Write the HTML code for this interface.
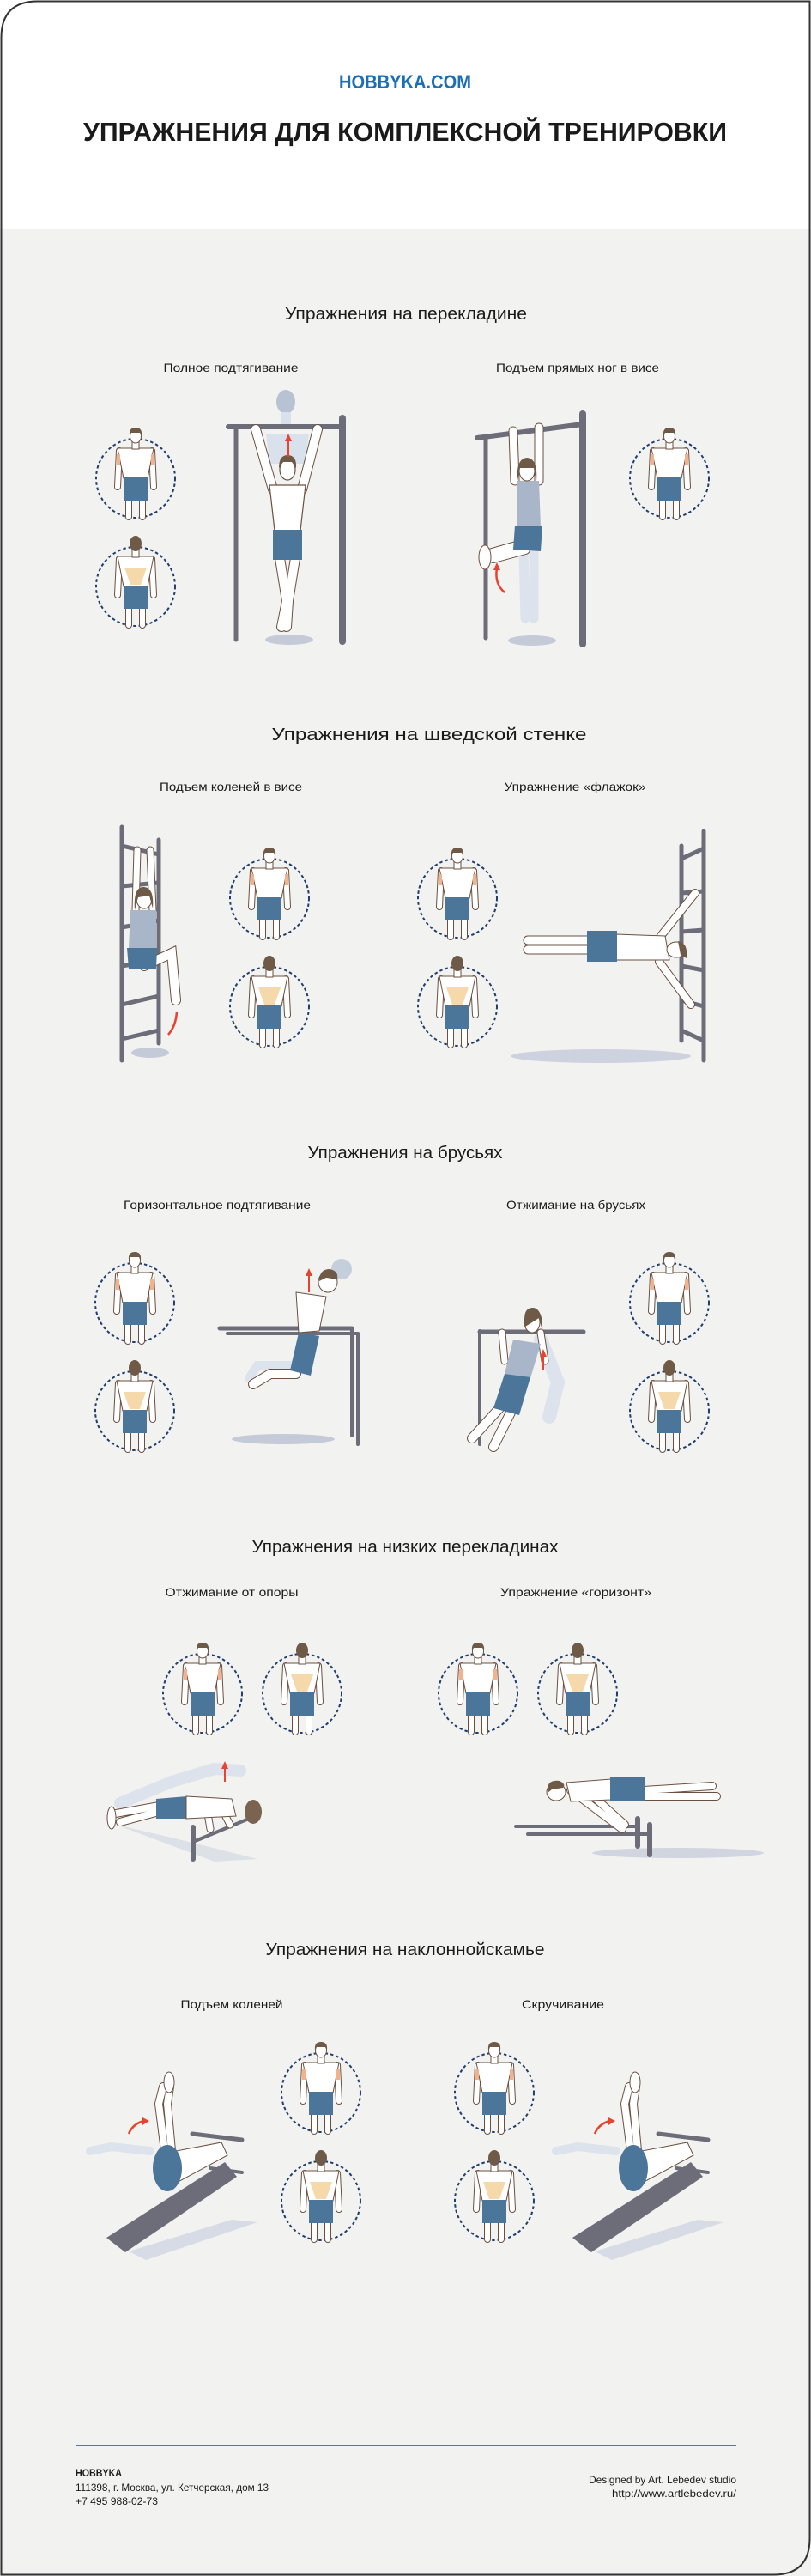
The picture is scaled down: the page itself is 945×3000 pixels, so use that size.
<!DOCTYPE html>
<html><head><meta charset="utf-8"><style>
html,body{margin:0;padding:0;background:#fff;}
svg{display:block;}
text{font-family:"Liberation Sans","Noto Sans CJK SC",sans-serif;}
</style></head><body>
<svg width="945" height="3000" viewBox="0 0 945 3000" xmlns="http://www.w3.org/2000/svg">
<defs>
<linearGradient id="fadeUp" x1="0" y1="0" x2="0" y2="1"><stop offset="0" stop-color="#6d6d7a" stop-opacity="0"/><stop offset="0.35" stop-color="#6d6d7a"/></linearGradient>
<g id="mbase">
 <circle r="46" fill="none" stroke="#1f3f6e" stroke-width="2" stroke-dasharray="3.5 3"/>
 <path d="M-8 24 L-8 45 M8 24 L8 45" stroke="#6b5040" stroke-width="8" stroke-linecap="round"/>
 <path d="M-8 24 L-8 45 M8 24 L8 45" stroke="#fff" stroke-width="6" stroke-linecap="round"/>
 <path d="M-19 -32 L-21 10 M19 -32 L21 10" stroke="#6b5040" stroke-width="8" stroke-linecap="round"/>
 <path d="M-19 -32 L-21 10 M19 -32 L21 10" stroke="#fff" stroke-width="6" stroke-linecap="round"/>
 <path d="M-21 -35 L21 -35 L14 0 L-14 0Z" fill="#fff" stroke="#6b5040" stroke-width="1"/>
 <rect x="-4" y="-44" width="8" height="10" fill="#fff" stroke="#6b5040" stroke-width="1"/>
 <rect x="-14" y="-1" width="28" height="27" fill="#4b7599"/>
</g>
<g id="mf">
 <use href="#mbase"/>
 <rect x="-22" y="-28" width="4" height="13" fill="#f2b38c"/>
 <rect x="18" y="-28" width="4" height="13" fill="#f2b38c"/>
 <ellipse cx="0" cy="-49" rx="6.5" ry="8" fill="#fff" stroke="#6b5040" stroke-width="1"/>
 <path d="M-7 -50 Q-8 -59 0 -59 Q8 -59 7 -50 L5 -53 L-5 -53Z" fill="#6e5a47"/>
</g>
<g id="mb">
 <use href="#mbase"/>
 <path d="M-13 -22 L13 -22 L6 -2 L-6 -2Z" fill="#f6d9aa"/>
 <ellipse cx="0" cy="-50" rx="7" ry="9" fill="#6e5a47"/>
</g>
</defs>

<!-- background & frame -->
<rect x="0" y="0" width="945" height="3000" fill="#fff"/>
<rect x="0" y="267" width="945" height="2733" fill="#f2f2f0"/>
<path d="M44 1.5 L943.5 1.5 L943.5 2956 Q943.5 2998.5 901 2998.5 L1.5 2998.5 L1.5 44 Q1.5 1.5 44 1.5Z" fill="none" stroke="#333" stroke-width="2"/>
<rect x="0" y="0" width="945" height="0.5" fill="#fff"/>

<!-- header -->
<text x="472" y="103" text-anchor="middle" font-size="22" font-weight="bold" fill="#1a6fb8" textLength="154" lengthAdjust="spacingAndGlyphs">HOBBYKA.COM</text>
<text x="472" y="164" text-anchor="middle" font-size="31" font-weight="bold" fill="#1a1a1a" textLength="750" lengthAdjust="spacingAndGlyphs">УПРАЖНЕНИЯ ДЛЯ КОМПЛЕКСНОЙ ТРЕНИРОВКИ</text>

<!-- section titles -->
<g font-size="20" fill="#1a1a1a" text-anchor="middle">
<text x="473" y="372" textLength="282" lengthAdjust="spacingAndGlyphs">Упражнения на перекладине</text>
<text x="500" y="862" textLength="367" lengthAdjust="spacingAndGlyphs">Упражнения на шведской стенке</text>
<text x="472" y="1349" textLength="227" lengthAdjust="spacingAndGlyphs">Упражнения на брусьях</text>
<text x="472" y="1808" textLength="357" lengthAdjust="spacingAndGlyphs">Упражнения на низких перекладинах</text>
<text x="472" y="2277" textLength="325" lengthAdjust="spacingAndGlyphs">Упражнения на наклоннойскамье</text>
</g>
<g font-size="14" fill="#1a1a1a" text-anchor="middle">
<text x="269" y="433" textLength="157" lengthAdjust="spacingAndGlyphs">Полное подтягивание</text>
<text x="673" y="433" textLength="190" lengthAdjust="spacingAndGlyphs">Подъем прямых ног в висе</text>
<text x="269" y="921" textLength="166" lengthAdjust="spacingAndGlyphs">Подъем коленей в висе</text>
<text x="670" y="921" textLength="165" lengthAdjust="spacingAndGlyphs">Упражнение «флажок»</text>
<text x="253" y="1408" textLength="218" lengthAdjust="spacingAndGlyphs">Горизонтальное подтягивание</text>
<text x="671" y="1408" textLength="162" lengthAdjust="spacingAndGlyphs">Отжимание на брусьях</text>
<text x="270" y="1859" textLength="155" lengthAdjust="spacingAndGlyphs">Отжимание от опоры</text>
<text x="671" y="1859" textLength="176" lengthAdjust="spacingAndGlyphs">Упражнение «горизонт»</text>
<text x="270" y="2339" textLength="119" lengthAdjust="spacingAndGlyphs">Подъем коленей</text>
<text x="656" y="2339" textLength="96" lengthAdjust="spacingAndGlyphs">Скручивание</text>
</g>

<!-- mini figures -->
<use href="#mf" x="158" y="557"/><use href="#mb" x="158" y="683"/>
<use href="#mf" x="780" y="557"/>
<use href="#mf" x="314" y="1046"/><use href="#mb" x="314" y="1172"/>
<use href="#mf" x="533" y="1046"/><use href="#mb" x="533" y="1172"/>
<use href="#mf" x="157" y="1517"/><use href="#mb" x="157" y="1643"/>
<use href="#mf" x="780" y="1517"/><use href="#mb" x="780" y="1643"/>
<use href="#mf" x="236" y="1972"/><use href="#mb" x="352" y="1972"/>
<use href="#mf" x="557" y="1972"/><use href="#mb" x="673" y="1972"/>
<use href="#mf" x="374" y="2437"/><use href="#mb" x="374" y="2563"/>
<use href="#mf" x="576" y="2437"/><use href="#mb" x="576" y="2563"/>

<!-- ===== Scene 1a pull-up ===== -->
<ellipse cx="337" cy="745" rx="28" ry="6" fill="#c5cad8"/>
<g stroke-linecap="round">
<line x1="275" y1="497" x2="275" y2="745" stroke="#6d6d7a" stroke-width="5"/>
<line x1="399" y1="487" x2="399" y2="747" stroke="#6d6d7a" stroke-width="8"/>
<line x1="266" y1="497" x2="399" y2="497" stroke="#6d6d7a" stroke-width="6"/>
<!-- ghost -->
<path d="M310 505 L360 505 L356 540 L314 540Z" fill="#d9e1ec"/>
<ellipse cx="333" cy="468" rx="11" ry="14" fill="#b7c3d3"/>
<rect x="327" y="480" width="12" height="14" fill="#d9e1ec"/>
<!-- arms -->
<path d="M298 500 L318 570 M370 500 L352 570" stroke="#6b5040" stroke-width="12"/>
<path d="M298 500 L318 570 M370 500 L352 570" stroke="#fff" stroke-width="10"/>
<!-- legs -->
<path d="M326 650 L334 700 L328 730 M344 650 L336 700 L334 730" stroke="#6b5040" stroke-width="12" fill="none"/>
<path d="M326 650 L334 700 L328 730 M344 650 L336 700 L334 730" stroke="#fff" stroke-width="10" fill="none"/>
</g>
<path d="M314 565 L356 565 L350 618 L320 618Z" fill="#fff" stroke="#6b5040" stroke-width="1.2"/>
<rect x="318" y="617" width="34" height="35" fill="#4b7599"/>
<ellipse cx="335" cy="547" rx="9" ry="12" fill="#fff" stroke="#6b5040" stroke-width="1.2"/>
<path d="M325 545 Q325 530 335 530 Q346 530 345 545 L340 538 L330 538Z" fill="#6e5a47"/>
<path d="M336 532 L336 512" stroke="#e8432e" stroke-width="2"/><path d="M332 514 L336 505 L340 514Z" fill="#e8432e"/>

<!-- ===== Scene 1b leg raise ===== -->
<ellipse cx="620" cy="746" rx="28" ry="6" fill="#c5cad8"/>
<g stroke-linecap="round">
<line x1="566" y1="508" x2="566" y2="743" stroke="#6d6d7a" stroke-width="5"/>
<line x1="679" y1="482" x2="679" y2="750" stroke="#6d6d7a" stroke-width="8"/>
<line x1="556" y1="510" x2="679" y2="494" stroke="#6d6d7a" stroke-width="6"/>
<path d="M610 640 L612 720 M622 640 L622 720" stroke="#dde3ec" stroke-width="11"/>
<path d="M598 502 L600 560 M628 498 L628 560" stroke="#6b5040" stroke-width="11"/>
<path d="M598 502 L600 560 M628 498 L628 560" stroke="#fff" stroke-width="9"/>
<path d="M605 635 L570 645 M612 640 L575 650" stroke="#6b5040" stroke-width="12"/>
<path d="M605 635 L570 645 M612 640 L575 650" stroke="#fff" stroke-width="10"/>
</g>
<ellipse cx="565" cy="649" rx="7" ry="14" fill="#fff" stroke="#6b5040"/>
<path d="M602 560 L628 560 L630 614 L603 614Z" fill="#a9b5c8"/>
<path d="M600 612 L632 612 L630 642 L598 640Z" fill="#4b7599"/>
<ellipse cx="614" cy="548" rx="9" ry="12" fill="#fff" stroke="#6b5040"/>
<path d="M603 560 Q601 534 614 533 Q627 534 625 560 L622 545 L606 545Z" fill="#6e5a47"/>
<path d="M588 690 Q576 680 579 662" stroke="#e8432e" stroke-width="2.5" fill="none"/><path d="M575 664 L579 655 L583 664Z" fill="#e8432e"/>

<!-- ===== Scene 2a wall bars ===== -->
<ellipse cx="175" cy="1226" rx="22" ry="6" fill="#c5cad8"/>
<g stroke="#6d6d7a" stroke-linecap="round">
<line x1="142" y1="963" x2="142" y2="1235" stroke-width="5"/>
<line x1="185" y1="978" x2="185" y2="1215" stroke-width="5"/>
<path d="M142 985 L185 995 M142 1032 L185 1028 M142 1080 L185 1072 M142 1125 L185 1118 M142 1170 L185 1160 M142 1210 L185 1200" stroke-width="5"/>
</g>
<g stroke-linecap="round">
<path d="M160 990 L158 1060 M175 990 L178 1060" stroke="#6b5040" stroke-width="9"/>
<path d="M160 990 L158 1060 M175 990 L178 1060" stroke="#fff" stroke-width="7"/>
<path d="M168 1125 L200 1110 L205 1165" stroke="#6b5040" stroke-width="12" fill="none"/>
<path d="M168 1125 L200 1110 L205 1165" stroke="#fff" stroke-width="10" fill="none"/>
</g>
<path d="M152 1060 L182 1060 L182 1105 L150 1105Z" fill="#a9b5c8"/>
<path d="M148 1104 L183 1104 L182 1128 L150 1128Z" fill="#4b7599"/>
<ellipse cx="168" cy="1047" rx="9" ry="11" fill="#fff" stroke="#6b5040"/>
<path d="M157 1060 Q155 1032 168 1033 Q180 1034 178 1058 L174 1043 L161 1045Z" fill="#6e5a47"/>
<path d="M196 1205 Q205 1195 206 1178" stroke="#e8432e" stroke-width="2.5" fill="none"/>

<!-- ===== Scene 2b flag ===== -->
<ellipse cx="700" cy="1230" rx="105" ry="8" fill="#cdd2de"/>
<g stroke="#6d6d7a" stroke-linecap="round">
<line x1="794" y1="985" x2="794" y2="1212" stroke-width="5"/>
<line x1="820" y1="968" x2="820" y2="1235" stroke-width="5"/>
<path d="M794 1000 L820 988 M794 1040 L820 1038 M794 1085 L820 1083 M794 1125 L820 1130 M794 1165 L820 1172 M794 1200 L820 1212" stroke-width="5"/>
</g>
<g stroke-linecap="round">
<path d="M615 1095 L690 1095 M615 1106 L690 1106" stroke="#6b5040" stroke-width="11"/>
<path d="M615 1095 L690 1095 M615 1106 L690 1106" stroke="#fff" stroke-width="9"/>
<path d="M770 1090 L810 1040 M768 1120 L805 1170" stroke="#6b5040" stroke-width="10"/>
<path d="M770 1090 L810 1040 M768 1120 L805 1170" stroke="#fff" stroke-width="8"/>
</g>
<path d="M718 1088 L775 1090 L780 1118 L718 1118Z" fill="#fff" stroke="#6b5040"/>
<rect x="684" y="1084" width="35" height="36" fill="#4b7599"/>
<ellipse cx="788" cy="1106" rx="11" ry="9" fill="#fff" stroke="#6b5040"/>
<path d="M790 1096 Q802 1098 800 1116 L793 1112Z" fill="#6e5a47"/>

<!-- ===== Scene 3a horizontal pull-up ===== -->
<ellipse cx="330" cy="1676" rx="60" ry="6" fill="#c5cad8"/>
<g stroke-linecap="round">
<line x1="256" y1="1500" x2="256" y2="1682" stroke="url(#fadeUp)" stroke-width="5"/>
<line x1="265" y1="1500" x2="265" y2="1670" stroke="url(#fadeUp)" stroke-width="5"/>
<line x1="256" y1="1547" x2="410" y2="1547" stroke="#6d6d7a" stroke-width="5"/>
<line x1="265" y1="1553" x2="417" y2="1553" stroke="#6d6d7a" stroke-width="4"/>
<line x1="410" y1="1547" x2="410" y2="1672" stroke="#6d6d7a" stroke-width="4"/>
<line x1="417" y1="1553" x2="417" y2="1682" stroke="#6d6d7a" stroke-width="4"/>
<path d="M340 1590 L300 1590 L290 1605" stroke="#dde3ec" stroke-width="10" fill="none"/>
<path d="M345 1600 L315 1600 L295 1612" stroke="#6b5040" stroke-width="12" fill="none"/>
<path d="M345 1600 L315 1600 L295 1612" stroke="#fff" stroke-width="10" fill="none"/>
</g>
<ellipse cx="398" cy="1478" rx="12" ry="12" fill="#c5cfdc"/>
<path d="M345 1505 L380 1510 L372 1550 L348 1552Z" fill="#fff" stroke="#6b5040"/>
<path d="M348 1552 L372 1556 L362 1602 L338 1596Z" fill="#4b7599"/>
<ellipse cx="382" cy="1493" rx="11" ry="12" fill="#fff" stroke="#6b5040"/>
<path d="M372 1492 Q372 1478 384 1478 Q395 1480 393 1490 L380 1488Z" fill="#6e5a47"/>
<path d="M360 1505 L360 1484" stroke="#e8432e" stroke-width="2"/><path d="M356 1486 L360 1477 L364 1486Z" fill="#e8432e"/>

<!-- ===== Scene 3b dips ===== -->
<g stroke-linecap="round">
<line x1="559" y1="1550" x2="559" y2="1682" stroke="#6d6d7a" stroke-width="4"/>
<line x1="680" y1="1500" x2="680" y2="1682" stroke="url(#fadeUp)" stroke-width="6"/>
<line x1="559" y1="1551" x2="680" y2="1551" stroke="#6d6d7a" stroke-width="5"/>
<path d="M630 1560 L650 1610 L640 1650" stroke="#dde3ec" stroke-width="16" fill="none"/>
<path d="M585 1552 L588 1585 M630 1552 L635 1585" stroke="#6b5040" stroke-width="9"/>
<path d="M585 1552 L588 1585 M630 1552 L635 1585" stroke="#fff" stroke-width="7"/>
<path d="M582 1640 L550 1675 M595 1645 L575 1685" stroke="#6b5040" stroke-width="12"/>
<path d="M582 1640 L550 1675 M595 1645 L575 1685" stroke="#fff" stroke-width="10"/>
</g>
<path d="M598 1560 L630 1565 L618 1605 L588 1600Z" fill="#a9b5c8"/>
<path d="M588 1600 L618 1604 L605 1648 L575 1640Z" fill="#4b7599"/>
<ellipse cx="620" cy="1540" rx="9" ry="12" fill="#fff" stroke="#6b5040"/>
<path d="M612 1545 Q608 1522 622 1523 Q633 1526 632 1550 L628 1535Z" fill="#6e5a47"/>
<path d="M633 1595 L633 1578" stroke="#e8432e" stroke-width="2"/><path d="M629 1580 L633 1571 L637 1580Z" fill="#e8432e"/>

<!-- ===== Scene 4a push-up ===== -->
<path d="M135 2125 L200 2140 L300 2165 L250 2168 Z" fill="#d6dbe5" opacity="0.8"/>
<g stroke-linecap="round">
<line x1="295" y1="2013" x2="295" y2="2138" stroke="url(#fadeUp)" stroke-width="6"/>
<line x1="225" y1="2128" x2="225" y2="2165" stroke="#6d6d7a" stroke-width="6"/>
<line x1="225" y1="2145" x2="290" y2="2118" stroke="#6d6d7a" stroke-width="4"/>
<path d="M140 2100 L200 2075 L250 2060 L280 2062" stroke="#dde3ec" stroke-width="14" fill="none"/>
<path d="M135 2112 L185 2103 M140 2122 L185 2110" stroke="#6b5040" stroke-width="10"/>
<path d="M135 2112 L185 2103 M140 2122 L185 2110" stroke="#fff" stroke-width="8"/>
<path d="M240 2100 L245 2130 M255 2100 L268 2125" stroke="#6b5040" stroke-width="9"/>
<path d="M240 2100 L245 2130 M255 2100 L268 2125" stroke="#fff" stroke-width="7"/>
</g>
<ellipse cx="130" cy="2117" rx="5" ry="13" fill="#fff" stroke="#6b5040"/>
<path d="M182 2095 L218 2092 L218 2118 L182 2118Z" fill="#4b7599"/>
<path d="M217 2092 L270 2095 L275 2115 L217 2118Z" fill="#fff" stroke="#6b5040"/>
<ellipse cx="295" cy="2110" rx="10" ry="14" fill="#7a6350"/>
<path d="M262 2075 L262 2058" stroke="#e8432e" stroke-width="2"/><path d="M258 2060 L262 2051 L266 2060Z" fill="#e8432e"/>

<!-- ===== Scene 4b horizon ===== -->
<ellipse cx="790" cy="2158" rx="100" ry="6" fill="#d0d5e0"/>
<g stroke-linecap="round">
<line x1="601" y1="2033" x2="601" y2="2148" stroke="url(#fadeUp)" stroke-width="6"/>
<line x1="615" y1="2033" x2="615" y2="2160" stroke="url(#fadeUp)" stroke-width="6"/>
<line x1="601" y1="2127" x2="743" y2="2127" stroke="#6d6d7a" stroke-width="4"/>
<line x1="615" y1="2136" x2="757" y2="2136" stroke="#6d6d7a" stroke-width="4"/>
<line x1="743" y1="2118" x2="743" y2="2150" stroke="#6d6d7a" stroke-width="6"/>
<line x1="757" y1="2125" x2="757" y2="2160" stroke="#6d6d7a" stroke-width="6"/>
<path d="M665 2085 L725 2130 M680 2082 L728 2125" stroke="#6b5040" stroke-width="10"/>
<path d="M665 2085 L725 2130 M680 2082 L728 2125" stroke="#fff" stroke-width="8"/>
<path d="M750 2085 L830 2080 M750 2092 L835 2092" stroke="#6b5040" stroke-width="10"/>
<path d="M750 2085 L830 2080 M750 2092 L835 2092" stroke="#fff" stroke-width="8"/>
</g>
<path d="M660 2076 L712 2072 L712 2096 L665 2098Z" fill="#fff" stroke="#6b5040"/>
<rect x="711" y="2070" width="40" height="27" fill="#4b7599"/>
<ellipse cx="648" cy="2087" rx="11" ry="10" fill="#fff" stroke="#6b5040"/>
<path d="M638 2088 Q636 2072 652 2074 Q660 2078 656 2082 L643 2084Z" fill="#6e5a47"/>

<!-- ===== Scene 5 benches ===== -->
<g id="bench">
<path d="M150 2622 L270 2585 L300 2588 L170 2632Z" fill="#d6dbe5"/>
<g stroke-linecap="round" stroke="#6d6d7a">
<line x1="224" y1="2440" x2="224" y2="2592" stroke="url(#fadeUp)" stroke-width="4"/>
<line x1="282" y1="2440" x2="282" y2="2605" stroke="url(#fadeUp)" stroke-width="4"/>
<line x1="224" y1="2485" x2="282" y2="2492" stroke-width="5"/>
<line x1="245" y1="2525" x2="282" y2="2530" stroke-width="4"/>
</g>
<path d="M124 2606 L146 2623 L276 2535 L262 2518Z" fill="#6d6d7a"/>
<g stroke-linecap="round">
<path d="M175 2505 L130 2500 L105 2505" stroke="#dde3ec" stroke-width="10" fill="none"/>
<path d="M192 2505 L185 2450 L190 2430 M200 2505 L195 2450 L198 2430" stroke="#6b5040" stroke-width="10" fill="none"/>
<path d="M192 2505 L185 2450 L190 2430 M200 2505 L195 2450 L198 2430" stroke="#fff" stroke-width="8" fill="none"/>
</g>
<path d="M200 2545 L265 2510 L258 2495 L205 2505Z" fill="#fff" stroke="#6b5040"/>
<ellipse cx="195" cy="2525" rx="17" ry="27" fill="#4b7599"/>
<ellipse cx="197" cy="2425" rx="6" ry="12" fill="#fff" stroke="#6b5040"/>
<path d="M150 2485 Q155 2473 168 2470" stroke="#e8432e" stroke-width="2.5" fill="none"/><path d="M166 2466 L174 2470 L166 2475Z" fill="#e8432e"/>
</g>
<use href="#bench" x="543" y="0"/>

<!-- footer -->
<rect x="88" y="2847" width="770" height="2" fill="#4a7aa8"/>
<text x="88" y="2884" font-size="12" font-weight="bold" fill="#1a1a1a" textLength="54" lengthAdjust="spacingAndGlyphs">HOBBYKA</text>
<text x="88" y="2901" font-size="12" fill="#1a1a1a" textLength="225" lengthAdjust="spacingAndGlyphs">111398, г. Москва, ул. Кетчерская, дом 13</text>
<text x="88" y="2917" font-size="12" fill="#1a1a1a" textLength="96" lengthAdjust="spacingAndGlyphs">+7 495 988-02-73</text>
<text x="858" y="2892" font-size="12" fill="#1a1a1a" text-anchor="end" textLength="172" lengthAdjust="spacingAndGlyphs">Designed by Art. Lebedev studio</text>
<text x="858" y="2908" font-size="12" fill="#1a1a1a" text-anchor="end" textLength="145" lengthAdjust="spacingAndGlyphs">http://www.artlebedev.ru/</text>
</svg>
</body></html>
